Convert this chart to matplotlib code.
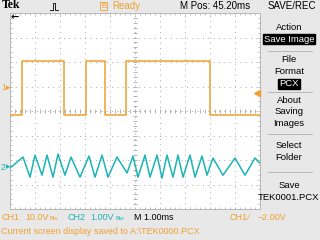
import numpy as np
import matplotlib
matplotlib.use("Agg")
import matplotlib.pyplot as plt
from matplotlib.lines import Line2D

# ---- data (time in ms, 1 ms/div; CH1 10 V/div, CH2 1 V/div) ----
ch1_edges_ms = [0.48, 2.16, 3.04, 3.80, 4.64, 8.00]
ch1_levels_v = [-11.0, 11.0, -11.0, 11.0, -11.0, 11.0, -11.0]

ch2_t_ms = [0.00, 0.52, 0.80, 1.00, 1.28, 1.48, 1.72, 1.92, 2.20, 2.44, 2.80, 3.16,
            3.40, 3.68, 3.92, 4.28, 4.68, 4.92, 5.12, 5.40, 5.60, 5.88, 6.08, 6.28,
            6.52, 6.72, 6.92, 7.20, 7.40, 7.68, 7.88, 8.12, 8.52, 9.00, 9.40, 9.80, 10.0]
ch2_v = [-0.04, 0.41, -0.41, 0.49, -0.33, 0.49, -0.41, 0.53, -0.33, 0.41, -0.41, 0.45,
         -0.41, 0.49, -0.41, 0.41, -0.24, 0.45, -0.41, 0.49, -0.41, 0.49, -0.45, 0.49,
         -0.41, 0.49, -0.41, 0.49, -0.41, 0.45, -0.33, 0.37, -0.33, 0.37, -0.33, 0.37, 0.16]

ch1_scale, ch2_scale = 10.0, 1.0
ch1_offset_div, ch2_offset_div = 0.94, -2.29
trig_level_v = -2.00

ORANGE = "#f0a030"
CYAN = "#1cb4b4"
GRID = "#a8a8a8"
BG = "#e8e8e8"
W, H = 320, 240
FONT = "Liberation Sans"


def px(x, y):
    return x / W, 1 - y / H


fig = plt.figure(figsize=(3.2, 2.4), dpi=100, facecolor=BG)
ax = fig.add_axes([10 / W, 31 / H, 250 / W, 196 / H], facecolor="white")
ax.set_xlim(0, 10)
ax.set_ylim(-4, 4)

# graticule
for gx in range(1, 10):
    ax.axvline(gx, color=GRID, lw=0.7, ls=(0, (1, 4.5)), zorder=1)
for gy in range(-3, 4):
    ax.axhline(gy, color=GRID, lw=0.7, ls=(0, (1, 4.5)), zorder=1)
minor_x = np.arange(0.2, 10, 0.2)
minor_y = np.arange(-3.8, 4, 0.2)
ax.plot(minor_x, np.zeros_like(minor_x), ls="none", marker="|", ms=3, mew=0.6, color=GRID, zorder=1)
ax.plot(np.full_like(minor_y, 5), minor_y, ls="none", marker="_", ms=3, mew=0.6, color=GRID, zorder=1)
ax.set_xticks(np.arange(0, 10.01, 0.2))
ax.set_yticks(np.arange(-4, 4.01, 0.2))
ax.tick_params(direction="in", length=1.5, width=0.5, color=GRID, top=True, right=True,
               labelbottom=False, labelleft=False)
for sp in ax.spines.values():
    sp.set_color("#b8b8b8")
    sp.set_linewidth(0.7)

# traces
t1 = [0.0] + ch1_edges_ms + [10.0]
y1 = [v / ch1_scale + ch1_offset_div for v in ch1_levels_v]
ax.step(t1, y1 + [y1[-1]], where="post", color=ORANGE, lw=1.1, zorder=3)
ax.plot(ch2_t_ms, [v / ch2_scale + ch2_offset_div for v in ch2_v], color=CYAN, lw=1.1, zorder=3)

# trigger level marker
ax.plot([9.88], [trig_level_v / ch1_scale + ch1_offset_div], marker="<", ms=5,
        color=ORANGE, clip_on=False, zorder=4)
# trigger position arrow (off screen left)
fig.text(*px(11, 17), "←", fontsize=7, fontweight="bold", family="DejaVu Sans",
         va="center", ha="left", color="black")

# ground markers
fig.text(*px(1, 88), "1", fontsize=6.5, family=FONT, color=ORANGE, va="center")
fig.text(*px(6, 88), "▸", fontsize=6.5, family="DejaVu Sans", color=ORANGE, va="center")
fig.text(*px(1, 167), "2", fontsize=6.5, family=FONT, color=CYAN, va="center")
fig.text(*px(6, 167), "▸", fontsize=6.5, family="DejaVu Sans", color=CYAN, va="center")

# top status bar
fig.text(*px(2, 5), "Tek", fontsize=8.5, fontweight="bold", family="Liberation Serif", va="center")
fig.add_artist(Line2D([50 / W, 53 / W, 53 / W, 55 / W, 55 / W, 58 / W],
                      [1 - 10 / H, 1 - 10 / H, 1 - 3 / H, 1 - 3 / H, 1 - 10 / H, 1 - 10 / H],
                      color="black", lw=0.6))
fig.text(*px(101, 6), "B", fontsize=5.5, family=FONT, color=ORANGE, va="center",
         bbox=dict(boxstyle="square,pad=0.1", fc="none", ec=ORANGE, lw=0.6))
fig.text(*px(112, 6), "Ready", fontsize=7, family=FONT, color=ORANGE, va="center")
fig.text(*px(180, 6), "M Pos: 45.20ms", fontsize=7, family=FONT, va="center")
fig.text(*px(268, 6), "SAVE/REC", fontsize=7, family=FONT, va="center")

# right menu
menu = [("Action", 27, False), ("Save Image", 39, True), ("File", 60, False),
        ("Format", 72, False), ("PCX", 84, True), ("About", 100, False),
        ("Saving", 112, False), ("Images", 124, False), ("Select", 146, False),
        ("Folder", 158, False), ("Save", 186, False), ("TEK0001.PCX", 198, False)]
for label, yy, inverse in menu:
    kw = {}
    if inverse:
        kw["bbox"] = dict(boxstyle="square,pad=0.1", fc="black", ec="black")
    fig.text(*px(289, yy), label, fontsize=6.8, family=FONT, ha="center", va="center",
             color="white" if inverse else "black", **kw)
for yy in [51, 92, 134, 172]:
    fig.add_artist(Line2D([268 / W, 312 / W], [1 - yy / H] * 2, color="#b0b0b0", lw=0.6))

# bottom readouts
bottom = [("CH1", 1, ORANGE), ("10.0V", 25, ORANGE), ("CH2", 67, CYAN), ("1.00V", 90, CYAN),
          ("M 1.00ms", 134, "black"), ("CH1", 230, ORANGE), ("\u2215", 248, ORANGE),
          ("\u22122.00V", 258, ORANGE)]
for label, xx, col in bottom:
    fig.text(*px(xx, 217), label, fontsize=6.5, family=[FONT, "DejaVu Sans"], color=col, va="center")
fig.text(*px(50, 218), "Bw", fontsize=4.5, family=FONT, color=ORANGE, va="center")
fig.text(*px(115, 218), "Bw", fontsize=4.5, family=FONT, color=CYAN, va="center")
fig.text(*px(1, 232), "Current screen display saved to A:\\TEK0000.PCX", fontsize=6.5,
         family=FONT, color=ORANGE, va="center")

fig.savefig("out.png", dpi=100, facecolor=BG)
